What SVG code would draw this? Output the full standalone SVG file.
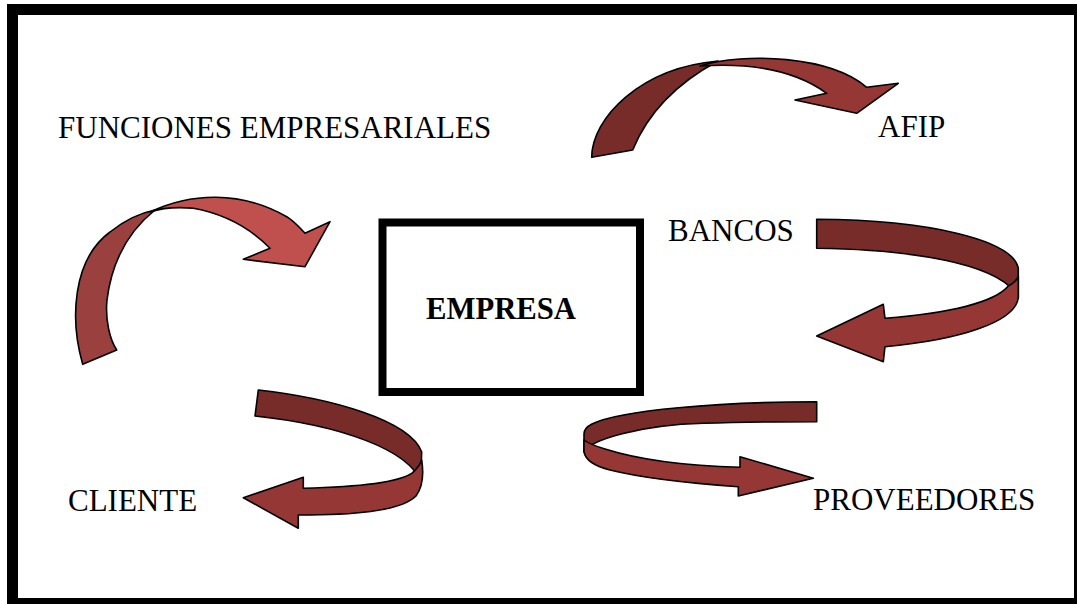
<svg xmlns="http://www.w3.org/2000/svg" width="1077" height="604" viewBox="0 0 1077 604">
<style>
.lbl{font-family:"Liberation Serif","Times New Roman",serif;font-size:31px;fill:#000}
.bold{font-weight:bold;font-size:30.7px}
.a{stroke:#000;stroke-width:1.6;stroke-linejoin:round}
.dk{fill:#772C2A}
.lt{fill:#953735}
.dk2{fill:#9A403E}
.lt2{fill:#C0504D}
</style>
<rect x="0" y="0" width="1077" height="604" fill="#fff"/>
<rect x="12.5" y="9.5" width="1067" height="594" fill="none" stroke="#000" stroke-width="11"/>
<g id="empresa">
<rect x="382.5" y="222.5" width="257.5" height="169.5" fill="#fff" stroke="#000" stroke-width="8"/>
<text class="lbl bold" x="426" y="319">EMPRESA</text>
</g>
<g id="funciones"><text class="lbl" x="58" y="138">FUNCIONES EMPRESARIALES</text></g>
<g id="afip"><text class="lbl" x="878" y="137">AFIP</text></g>
<g id="bancos"><text class="lbl" x="668" y="241">BANCOS</text></g>
<g id="cliente"><text class="lbl" x="68" y="511">CLIENTE</text></g>
<g id="proveedores"><text class="lbl" x="813" y="510">PROVEEDORES</text></g>
<g id="connectors">
<!-- AFIP arrow -->
<path class="a dk" d="M591.7,157.3 C592,118 640,68 718,61 Q655,95 632.7,150 Z"/>
<path class="a lt" d="M700,66 C745,52 830,56 866.7,87.3 L898.3,83.3 L856.7,113.3 L795,100 L826.7,93.3 C800,74 760,62 700,66 Z"/>
<!-- left arrow to EMPRESA -->
<path class="a dk2" d="M82.7,364.3 C70,320 72,260 110,232 C125,220 140,213 155,210 C130,230 112,260 107,300 C105,320 110,340 116.7,350 Z"/>
<path class="a lt2" d="M150,212 C190,193 240,190 286.7,216.7 C295,222 300,228 305,233.3 L330,221.7 L305,266.7 L243.3,259.3 L270,248.3 C250,228 225,214 193.3,208.3 C180,207 165,207 150,212 Z"/>
<!-- BANCOS arrow -->
<path class="a dk" d="M816.7,219.3 C930,220 1012,240 1018.3,268 L1018.3,298 C1005,268 930,250 816.7,248.3 Z"/>
<path class="a lt" d="M1018.3,276 L1018.3,298 C1015,322 960,340 885,346.7 L883.3,361.7 L816.7,336 L883.3,304.3 L885,318.3 C950,313 995,302 1008.3,286 C1014,283 1017,280 1018.3,276 Z"/>
<!-- CLIENTE arrow -->
<path class="a dk" d="M258.3,390 C330,398 410,420 421.7,452 L420.5,482 C410,450 340,425 255,416 Z"/>
<path class="a lt" d="M421.7,460 C424,475 422,488 416,496 C400,512 350,515 298.3,515 L298.3,528.3 L243.3,497.7 L303.3,477.3 L303.3,488.3 C350,487 395,484 411.7,473.3 C417,469 420,465 421.7,460 Z"/>
<!-- PROVEEDORES arrow -->
<path class="a dk" d="M816.7,401.7 C720,402 620,410 592,424 C586,427 584,430 584,434 L584,452 C590,440 640,425 703.3,423.3 C740,422 780,421.7 816.7,421.7 Z"/>
<path class="a lt" d="M584,440 L584,452 C586,462 598,467 610,470 C650,480 700,484 738.3,486.7 L738.3,496 L813.3,478.3 L740,456.7 L740,467.3 C690,466 640,460 605,449 C595,446 589,444 584,440 Z"/>
</g>
</svg>
